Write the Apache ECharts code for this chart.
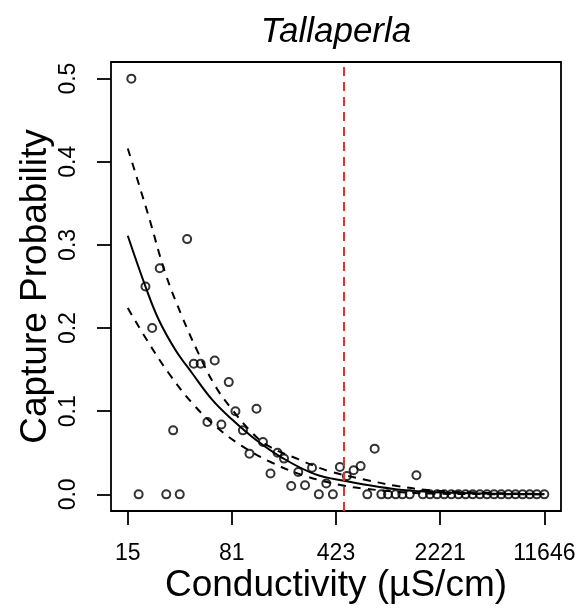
<!DOCTYPE html>
<html>
<head>
<meta charset="utf-8">
<script src="https://cdn.jsdelivr.net/npm/echarts@6/dist/echarts.min.js"></script>
<style>
html,body{margin:0;padding:0;background:#fff;}
#chart{width:582px;height:608px;}
</style>
</head>
<body>
<div id="chart"></div>
<script>
// ---- data ----
const conductivity = [16.3, 18.3, 20.4, 22.7, 25.6, 28.4, 31.7, 35.2, 39.6, 44.0, 49.1, 54.7, 61.4, 68.3, 76.8, 85.4, 96.2, 106.8, 119.4, 132.4, 149.2, 166.9, 185.0, 207.5, 232.0, 258.5, 289.0, 322.1, 362.4, 402.6, 450.1, 503.3, 560.1, 626.1, 696.5, 782.6, 870.7, 967.1, 1093.6, 1216.7, 1367.4, 1520.8, 1685, 1887, 2112, 2369, 2653, 2971, 3326, 3724, 4176, 4677, 5236, 5864, 6576, 7362, 8244, 9231, 10335, 11646];
const captureProb = [0.5, 0, 0.25, 0.2, 0.272, 0, 0.077, 0, 0.307, 0.157, 0.157, 0.087, 0.161, 0.084, 0.135, 0.1, 0.077, 0.049, 0.103, 0.063, 0.025, 0.05, 0.043, 0.010, 0.027, 0.011, 0.032, 0, 0.013, 0, 0.033, 0.022, 0.029, 0.034, 0, 0.055, 0, 0, 0, 0, 0, 0.023, 0, 0, 0, 0, 0, 0, 0, 0, 0, 0, 0, 0, 0, 0, 0, 0, 0, 0];

const fitCond = [15.4, 20.4, 25.2, 32.8, 42.8, 58.9, 81.0, 117.5, 179.8, 305.6, 493, 660, 1124, 1910, 4236, 11646];
const fitProb = [0.311, 0.250, 0.210, 0.174, 0.146, 0.114, 0.090, 0.066, 0.044, 0.024, 0.016, 0.012, 0.006, 0.0028, 0.001, 0.0002];

const upperCond = [15.4, 21.5, 28.0, 36.5, 47.6, 62.1, 81.0, 111.5, 145.2, 234.2, 377.8, 660, 1124, 1910, 4236, 11646];
const upperProb = [0.416, 0.334, 0.266, 0.214, 0.169, 0.130, 0.102, 0.074, 0.058, 0.042, 0.028, 0.018, 0.010, 0.005, 0.002, 0.0005];

const lowerCond = [15.4, 21.5, 29.5, 42.8, 62.1, 95.0, 153.3, 260.6, 493, 660, 1124, 1910, 4236, 11646];
const lowerProb = [0.224, 0.182, 0.146, 0.110, 0.082, 0.058, 0.038, 0.022, 0.010, 0.007, 0.003, 0.001, 0.0003, 0.00005];

const thresholdCond = 479;

const xTickValues = [15.37, 80.6, 423, 2221, 11646];
const xTickLabels = ['15', '81', '423', '2221', '11646'];
const yTickValues = [0, 0.1, 0.2, 0.3, 0.4, 0.5];
const yTickLabels = ['0.0', '0.1', '0.2', '0.3', '0.4', '0.5'];

const titleText = 'Tallaperla';
const xTitle = 'Conductivity (\u00B5S/cm)';
const yTitle = 'Capture Probability';

// ---- build chart ----
const L = Math.log10;
const pair = (xs, ys) => xs.map((x, i) => [L(x), ys[i]]);
const xTickPos = xTickValues.map(L);
const xSpan = xTickPos[xTickPos.length - 1] - xTickPos[0];
const xMin = xTickPos[0] - 0.04 * xSpan;
const xMax = xTickPos[xTickPos.length - 1] + 0.04 * xSpan;

const FONT = '"Liberation Sans", Arial, Helvetica, sans-serif';
const gridL = 111, gridT = 62, gridW = 450, gridH = 449;

const chart = echarts.init(document.getElementById('chart'), null, {renderer: 'canvas'});
chart.setOption({
  animation: false,
  backgroundColor: '#fff',
  grid: {left: gridL, top: gridT, width: gridW, height: gridH, show: true, borderColor: '#000', borderWidth: 1.8, backgroundColor: 'transparent'},
  xAxis: {
    type: 'value', min: xMin, max: xMax,
    axisLine: {show: false, onZero: false},
    splitLine: {show: false},
    axisTick: {show: true, length: 14, customValues: xTickPos, lineStyle: {color: '#000', width: 1.8}},
    axisLabel: {
      customValues: xTickPos, margin: 31, color: '#000', fontSize: 23, fontFamily: FONT,
      formatter: v => { const i = xTickPos.findIndex(p => Math.abs(p - v) < 1e-6); return i >= 0 ? xTickLabels[i] : ''; }
    }
  },
  yAxis: {
    type: 'value', min: -0.02, max: 0.52,
    axisLine: {show: false, onZero: false},
    splitLine: {show: false},
    axisTick: {show: true, length: 14, customValues: yTickValues, lineStyle: {color: '#000', width: 1.8}},
    axisLabel: {
      customValues: yTickValues, rotate: 90, margin: 31, color: '#000', fontSize: 23, fontFamily: FONT,
      formatter: v => { const i = yTickValues.findIndex(p => Math.abs(p - v) < 1e-9); return i >= 0 ? yTickLabels[i] : ''; }
    }
  },
  graphic: [
    {type: 'text', x: gridL + gridW / 2, y: 32, style: {text: titleText, font: 'italic 35px ' + FONT, fill: '#000', textAlign: 'center', textVerticalAlign: 'middle'}},
    {type: 'text', x: gridL + gridW / 2, y: 586, style: {text: xTitle, font: '37px ' + FONT, fill: '#000', textAlign: 'center', textVerticalAlign: 'middle'}},
    {type: 'text', x: 36, y: gridT + gridH / 2, rotation: Math.PI / 2, style: {text: yTitle, font: '37px ' + FONT, fill: '#000', textAlign: 'center', textVerticalAlign: 'middle'}}
  ],
  series: [
    {
      type: 'scatter', data: pair(conductivity, captureProb), symbol: 'circle', symbolSize: 8,
      itemStyle: {color: 'rgba(0,0,0,0)', borderColor: '#000', borderWidth: 2}, z: 3
    },
    {
      type: 'line', data: pair(fitCond, fitProb), smooth: 0.4, symbol: 'none',
      lineStyle: {color: '#000', width: 2}, z: 2
    },
    {
      type: 'line', data: pair(upperCond, upperProb), smooth: 0.4, symbol: 'none',
      lineStyle: {color: '#000', width: 2, type: [8, 7]}, z: 2
    },
    {
      type: 'line', data: pair(lowerCond, lowerProb), smooth: 0.4, symbol: 'none',
      lineStyle: {color: '#000', width: 2, type: [8, 7]}, z: 2,
      markLine: {
        silent: true, symbol: 'none', label: {show: false},
        lineStyle: {color: '#ee2a2a', width: 2, type: [9, 6]},
        data: [{xAxis: L(thresholdCond)}]
      }
    }
  ]
});
</script>
</body>
</html>
